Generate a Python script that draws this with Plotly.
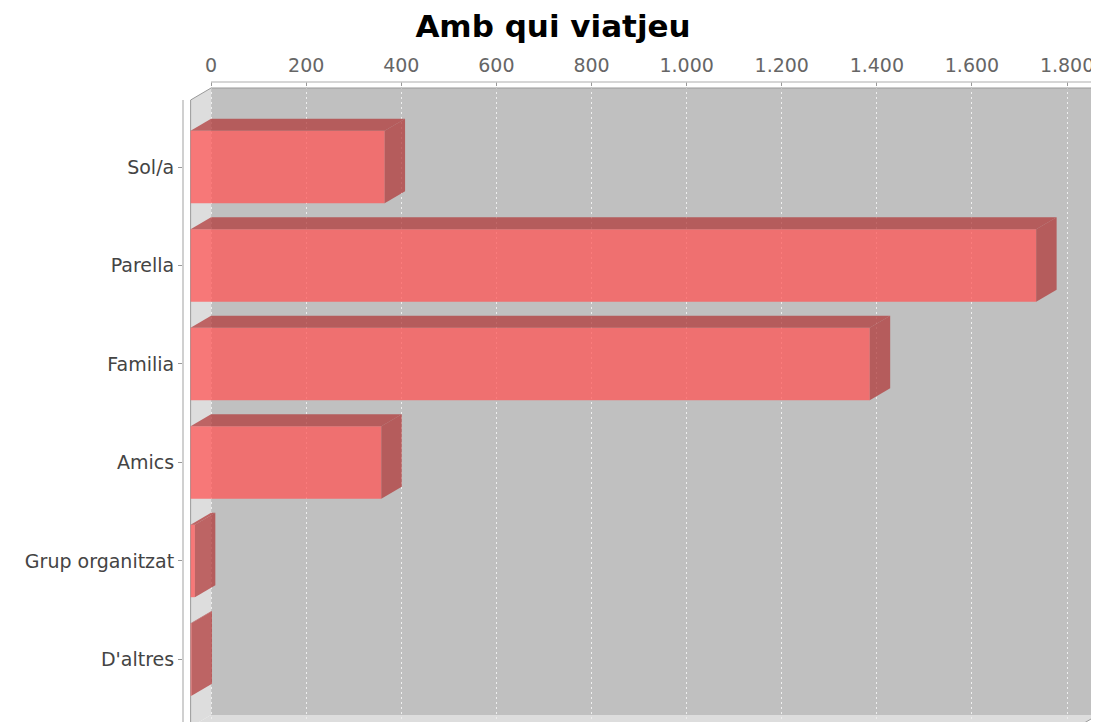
import plotly.graph_objects as go

# ---- data ----
categories = ["Sol/a", "Parella", "Familia", "Amics", "Grup organitzat", "D'altres"]
values = [408, 1778, 1428, 401, 9, 2]
tick_values = [0, 200, 400, 600, 800, 1000, 1200, 1400, 1600, 1800]
title_text = "Amb qui viatjeu"

# ---- layout constants ----
# the page body adds an 8px margin, so the figure is 8px smaller than the window
W, H = 1091, 714
M_L, M_R, M_T, M_B = 175, 1, 74, 0
AXIS_MAX = 1865            # upper end of value axis (auto range + margin)
X_RANGE = [-59, AXIS_MAX]
Y_RANGE = [5.635, -0.863]  # category index axis, reversed (first category on top)
DX = 43.0                  # 3D depth along value axis (value units)
DY = 0.122                 # 3D depth along category axis (category units)
HALF = 0.368               # half bar thickness (category units)
WALL_TOP = -0.802
WALL_BOTTOM = 5.563

FRONT = "rgba(255,85,85,0.75)"
DARK = "rgba(178,59,59,0.75)"
WALL = "#DDDDDD"
BACK = "#C0C0C0"
FONT = "DejaVu Sans"

idx = list(range(len(categories)))

fig = go.Figure()

# front faces of the bars
fig.add_trace(go.Bar(
    y=idx, x=values, base=[-DX] * len(values), orientation="h",
    width=2 * HALF, marker=dict(color=FRONT, line=dict(width=0)),
    hoverinfo="skip", showlegend=False,
))

# top and side faces
for i, v in zip(idx, values):
    top_x = [-DX, v - DX, v, 0, -DX]
    top_y = [i - HALF, i - HALF, i - HALF - DY, i - HALF - DY, i - HALF]
    side_x = [v - DX, v, v, v - DX, v - DX]
    side_y = [i - HALF, i - HALF - DY, i + HALF - DY, i + HALF, i - HALF]
    for xs, ys in ((top_x, top_y), (side_x, side_y)):
        fig.add_trace(go.Scatter(
            x=xs, y=ys, mode="lines", fill="toself", fillcolor=DARK,
            line=dict(width=0, color=DARK), hoverinfo="skip", showlegend=False,
        ))

shapes = [
    # back wall
    dict(type="rect", xref="x", yref="y", x0=0, x1=AXIS_MAX, y0=WALL_TOP, y1=WALL_BOTTOM,
         fillcolor=BACK, line=dict(width=0), layer="below"),
    # left wall
    dict(type="path", xref="x", yref="y", layer="below", fillcolor=WALL, line=dict(width=0),
         path=f"M {-DX},{WALL_TOP + DY} L 0,{WALL_TOP} L 0,{WALL_BOTTOM} L {-DX},{WALL_BOTTOM + DY} Z"),
    # floor
    dict(type="path", xref="x", yref="y", layer="below", fillcolor=WALL, line=dict(width=0),
         path=f"M {-DX},{WALL_BOTTOM + DY} L 0,{WALL_BOTTOM} L {AXIS_MAX},{WALL_BOTTOM} "
              f"L {AXIS_MAX - DX},{WALL_BOTTOM + DY} Z"),
    # outline
    dict(type="path", xref="x", yref="y", layer="between", line=dict(color="#999999", width=1),
         path=f"M {-DX},{WALL_BOTTOM + DY} L {-DX},{WALL_TOP + DY} L 0,{WALL_TOP} "
              f"L {AXIS_MAX},{WALL_TOP} L {AXIS_MAX},{WALL_BOTTOM} L {AXIS_MAX - DX},{WALL_BOTTOM + DY}"),
    # value axis line (top)
    dict(type="line", xref="x", yref="paper", x0=0, x1=AXIS_MAX, y0=1, y1=1,
         line=dict(color="#C8C8C8", width=1.5), layer="above"),
    # category axis line (left)
    dict(type="line", xref="paper", yref="y", x0=0, x1=0, y0=WALL_TOP + DY, y1=Y_RANGE[0],
         line=dict(color="#C0C0C0", width=1.5), layer="above"),
]

fig.update_layout(
    width=W, height=H,
    margin=dict(l=M_L, r=M_R, t=M_T, b=M_B, pad=0, autoexpand=False),
    paper_bgcolor="white", plot_bgcolor="white",
    separators=",.",
    shapes=shapes,
    barmode="overlay",
    title=dict(text=title_text, x=545 / W, xanchor="center", xref="container",
               y=1 - 18 / H, yanchor="middle", yref="container",
               font=dict(family=FONT, size=31, color="black", weight="bold")),
    xaxis=dict(range=X_RANGE, side="top", tickvals=tick_values, tickformat=",",
               ticks="inside", ticklen=4, tickcolor="#999999", showline=False,
               zeroline=False, showgrid=True, gridcolor="#EEEEEE", gridwidth=1.3,
               griddash="2px,3px", tickfont=dict(family=FONT, size=19, color="#666666"),
               ticklabelstandoff=5, automargin=False, fixedrange=True),
    yaxis=dict(range=Y_RANGE, tickvals=idx, ticktext=categories, ticks="outside",
               ticklen=4, tickcolor="#999999", showline=False, zeroline=False,
               showgrid=False, tickfont=dict(family=FONT, size=19, color="#444444"),
               automargin=False, fixedrange=True),
)

fig.write_html("out.html")
